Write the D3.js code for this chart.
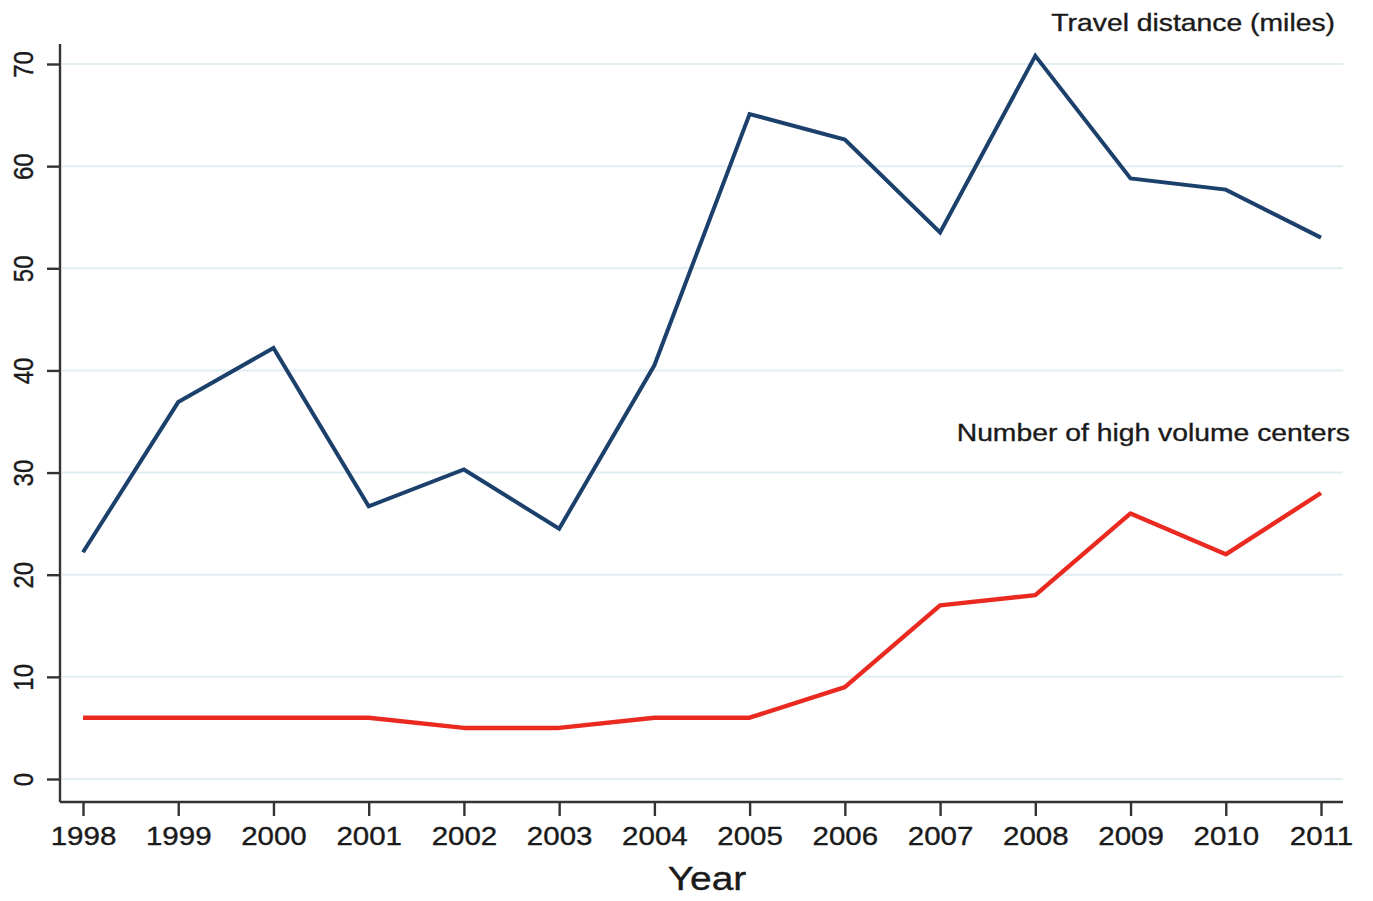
<!DOCTYPE html>
<html lang="en">
<head>
<meta charset="utf-8">
<script src="https://d3js.org/d3.v7.min.js"></script>
<style type="text/css">
body {
  margin: 0;
  padding: 0;
  background: white;
  font-family: "Liberation Sans", Arial, Helvetica, sans-serif;
}
/* the scanned source text looks a little heavier than plain regular */
text {
  stroke: #1a1a1a;
  stroke-width: 0.35px;
}
</style>
</head>
<body>
<div id="chart"></div>
<script type="text/javascript">

// chart data
var years = [1998, 1999, 2000, 2001, 2002, 2003, 2004, 2005, 2006, 2007, 2008, 2009, 2010, 2011];
var travelDistance = [22.2, 36.9, 42.2, 26.7, 30.3, 24.5, 40.5, 65.1, 62.6, 53.5, 70.8, 58.8, 57.7, 53.0];
var highVolumeCenters = [6, 6, 6, 6, 5, 5, 6, 6, 9, 17, 18, 26, 22, 28];
var yTicks = [0, 10, 20, 30, 40, 50, 60, 70];
var xLabel = "Year";
var travelLabel = "Travel distance (miles)";
var centersLabel = "Number of high volume centers";

var width = 1373;
var height = 901;
var stretch = 1.18; // the source picture is stretched sideways

var svg = d3.select("#chart")
  .append("svg")
  .attr("width", width)
  .attr("height", height);

// axis frame
var axisLeft = 60, axisRight = 1343, axisTop = 44, axisBottom = 802;

var x = d3.scaleLinear()
  .domain([1998, 2011])
  .range([83, 1321]);

var y = d3.scaleLinear()
  .domain([0, 70])
  .range([779, 64]);

// gridlines
svg.append("g")
  .selectAll("line")
  .data(yTicks)
  .enter()
  .append("line")
  .attr("x1", axisLeft + 2)
  .attr("x2", axisRight)
  .attr("y1", function(d) { return y(d); })
  .attr("y2", function(d) { return y(d); })
  .style("stroke", "#e1eef2")
  .style("stroke-width", 2);

// y axis
var yAxis = svg.append("g")
  .attr("transform", "translate(" + axisLeft + ",0)")
  .call(d3.axisLeft(y).tickValues(yTicks).tickSize(13).tickFormat(d3.format("d")));

yAxis.select(".domain")
  .attr("d", "M0," + axisTop + "V" + axisBottom);

yAxis.selectAll("text")
  .attr("x", null)
  .attr("dy", null)
  .attr("text-anchor", "middle")
  .attr("transform", "translate(-27,0) scale(" + stretch + ",1) rotate(-90)")
  .style("font-size", "24px");

// x axis
var xAxis = svg.append("g")
  .attr("transform", "translate(0," + axisBottom + ")")
  .call(d3.axisBottom(x).tickValues(years).tickSize(14).tickFormat(d3.format("d")));

xAxis.select(".domain")
  .attr("d", "M" + axisLeft + ",0H" + axisRight);

xAxis.selectAll("text")
  .attr("y", 43)
  .attr("dy", null)
  .attr("transform", "scale(" + stretch + ",1)")
  .style("font-size", "25px");

svg.selectAll(".domain, .tick line")
  .style("stroke", "#333")
  .style("stroke-width", 2.4);

svg.selectAll(".tick text")
  .style("fill", "#1a1a1a")
  .style("font-family", "'Liberation Sans', Arial, sans-serif");

// lines
var line = d3.line()
  .x(function(d, i) { return x(years[i]); })
  .y(function(d) { return y(d); });

svg.append("path")
  .datum(travelDistance)
  .attr("d", line)
  .style("fill", "none")
  .style("stroke", "#1c406c")
  .style("stroke-width", 4)
  .style("stroke-linejoin", "miter");

svg.append("path")
  .datum(highVolumeCenters)
  .attr("d", line)
  .style("fill", "none")
  .style("stroke", "#ea2a20")
  .style("stroke-width", 4.4)
  .style("stroke-linejoin", "round");

// labels
function stretchedText(txt, px, py, size, anchor) {
  svg.append("text")
    .attr("transform", "translate(" + px + "," + py + ") scale(" + stretch + ",1)")
    .attr("text-anchor", anchor)
    .style("font-size", size + "px")
    .style("fill", "#1a1a1a")
    .text(txt);
}

stretchedText(travelLabel, 1335, 31, 24, "end");
stretchedText(centersLabel, 1350, 441, 24, "end");
stretchedText(xLabel, 707, 890, 33, "middle");

</script>
</body>
</html>
